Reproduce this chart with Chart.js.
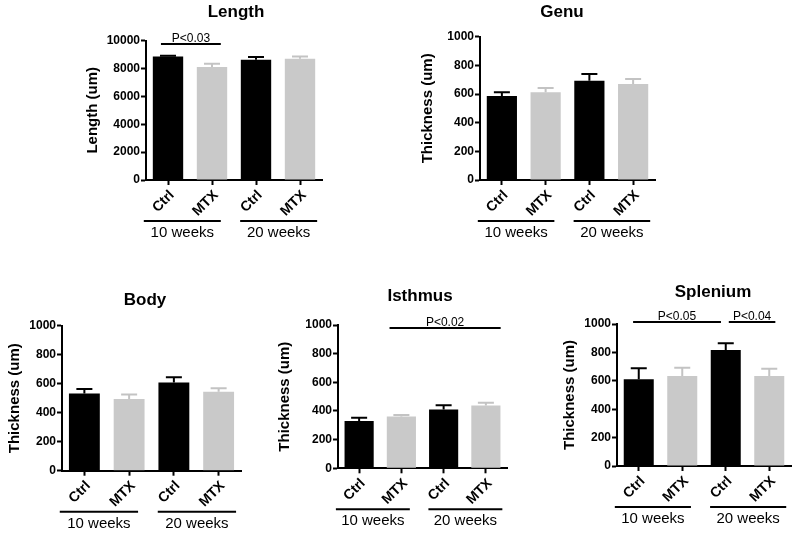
<!DOCTYPE html>
<html>
<head>
<meta charset="utf-8">
<script src="https://cdn.jsdelivr.net/npm/chart.js@4/dist/chart.umd.min.js"></script>
<style>
  html, body { margin: 0; padding: 0; background: #fff; }
  #wrap { position: relative; width: 798px; height: 533px; }
  #wrap canvas { position: absolute; left: 0; top: 0; }
</style>
</head>
<body>
<div id="wrap">
  <canvas id="c-length" width="798" height="533"></canvas>
  <canvas id="c-genu" width="798" height="533"></canvas>
  <canvas id="c-body" width="798" height="533"></canvas>
  <canvas id="c-isthmus" width="798" height="533"></canvas>
  <canvas id="c-splenium" width="798" height="533"></canvas>
</div>
<script>
// ---- data ----
const categories = ['Ctrl', 'MTX', 'Ctrl', 'MTX'];
const groups = ['10 weeks', '20 weeks'];

const lengthMeans = [8850, 8100, 8620, 8690];
const lengthErr = [50, 240, 190, 170];
const genuMeans = [586, 612, 693, 670];
const genuErr = [26, 30, 47, 35];
const bodyMeans = [533, 494, 609, 545];
const bodyErr = [30, 32, 35, 23];
const isthmusMeans = [330, 362, 410, 438];
const isthmusErr = [22, 10, 30, 20];
const spleniumMeans = [611, 634, 817, 634];
const spleniumErr = [77, 58, 47, 51];

const lengthTicks = [0, 2000, 4000, 6000, 8000, 10000];
const thicknessTicks = [0, 200, 400, 600, 800, 1000];

// significance: [fromIndex, toIndex, label]
const lengthSig = [[0, 1, 'P<0.03']];
const isthmusSig = [[1, 3, 'P<0.02']];
const spleniumSig = [[0, 2, 'P<0.05'], [2, 3, 'P<0.04']];

// ---- styling ----
const FONT = '"Liberation Sans", Arial, Helvetica, sans-serif';
const BLACK = '#000000';
const GREY = '#c9c9c9';
const GREY_ERR = '#c3c3c3';

// panel frames: axis left, top (max), right, bottom (0), y-title centre x, title pos
const panels = [
  { id: 'c-length', title: 'Length', yTitle: 'Length (um)', means: lengthMeans, err: lengthErr, ticks: lengthTicks,
    frame: { L: 146, T: 40.5, R: 322, B: 180, yt: 93 }, titlePos: [236, 17],
    sig: lengthSig, sigStyle: { dy: 3.5, off: [[-0.16, 0.2]] } },
  { id: 'c-genu', title: 'Genu', yTitle: 'Thickness (um)', means: genuMeans, err: genuErr, ticks: thicknessTicks,
    frame: { L: 480, T: 36.7, R: 655, B: 180, yt: 428 }, titlePos: [562, 17] },
  { id: 'c-body', title: 'Body', yTitle: 'Thickness (um)', means: bodyMeans, err: bodyErr, ticks: thicknessTicks,
    frame: { L: 62, T: 325.7, R: 241, B: 470.7, yt: 15 }, titlePos: [145, 305] },
  { id: 'c-isthmus', title: 'Isthmus', yTitle: 'Thickness (um)', means: isthmusMeans, err: isthmusErr, ticks: thicknessTicks,
    frame: { L: 338, T: 325, R: 507, B: 468.3, yt: 285 }, titlePos: [420, 301],
    sig: isthmusSig, sigStyle: { dy: 3, off: [[-0.28, 0.35]] } },
  { id: 'c-splenium', title: 'Splenium', yTitle: 'Thickness (um)', means: spleniumMeans, err: spleniumErr, ticks: thicknessTicks,
    frame: { L: 617, T: 324, R: 791, B: 466, yt: 570 }, titlePos: [713, 297],
    sig: spleniumSig, sigStyle: { dy: -2, off: [[-0.13, -0.11], [0.07, 0.14]] } }
];

// group underline extents, in category widths from first/last centre of each group
const groupOff = [[-0.55, 0.2], [-0.36, 0.39]];

// draws error bars, titles, group lines and p-value bars
const decorPlugin = {
  id: 'decor',
  afterDatasetsDraw(chart, args, opts) {
    const ctx = chart.ctx;
    const y = chart.scales.y;
    const meta = chart.getDatasetMeta(0);
    const errs = opts.err;
    ctx.save();
    meta.data.forEach((bar, i) => {
      const top = y.getPixelForValue(chart.data.datasets[0].data[i] + errs[i]);
      ctx.strokeStyle = i % 2 === 0 ? BLACK : GREY_ERR;
      ctx.lineWidth = 2;
      ctx.beginPath();
      ctx.moveTo(bar.x, bar.y);
      ctx.lineTo(bar.x, top);
      ctx.moveTo(bar.x - 8, top);
      ctx.lineTo(bar.x + 8, top);
      ctx.stroke();
    });
    ctx.restore();
  },
  afterDraw(chart, args, opts) {
    const ctx = chart.ctx;
    const x = chart.scales.x;
    const area = chart.chartArea;
    const cw = (area.right - area.left) / categories.length;
    ctx.save();

    // title
    ctx.fillStyle = BLACK;
    ctx.font = 'bold 17px ' + FONT;
    ctx.textAlign = 'center';
    ctx.textBaseline = 'alphabetic';
    ctx.fillText(opts.title, opts.titlePos[0], opts.titlePos[1]);

    // group underlines
    const gy = area.bottom + 41;
    ctx.strokeStyle = BLACK;
    ctx.lineWidth = 2;
    ctx.font = '15px ' + FONT;
    groups.forEach((g, k) => {
      const a = x.getPixelForValue(k * 2) + groupOff[k][0] * cw;
      const b = x.getPixelForValue(k * 2 + 1) + groupOff[k][1] * cw;
      ctx.beginPath();
      ctx.moveTo(a, gy);
      ctx.lineTo(b, gy);
      ctx.stroke();
      ctx.textBaseline = 'middle';
      ctx.fillText(g, (a + b) / 2, gy + 12);
    });

    // p-value bars
    if (opts.sig) {
      const sy = area.top + opts.sigStyle.dy;
      ctx.font = '12px ' + FONT;
      ctx.textBaseline = 'alphabetic';
      opts.sig.forEach((s, k) => {
        const a = x.getPixelForValue(s[0]) + opts.sigStyle.off[k][0] * cw;
        const b = x.getPixelForValue(s[1]) + opts.sigStyle.off[k][1] * cw;
        ctx.beginPath();
        ctx.moveTo(a, sy);
        ctx.lineTo(b, sy);
        ctx.stroke();
        ctx.fillText(s[2], (a + b) / 2, sy - 2);
      });
    }
    ctx.restore();
  }
};

function makePanel(p) {
  const f = p.frame;
  const yTitleSize = 15;
  const padLeft = f.yt - yTitleSize * 1.2 / 2;
  const yWidth = f.L - padLeft;
  const xHeight = 533 - f.B;
  const ticks = p.ticks;

  new Chart(document.getElementById(p.id), {
    type: 'bar',
    data: {
      labels: categories,
      datasets: [{
        data: p.means,
        backgroundColor: p.means.map((v, i) => i % 2 === 0 ? BLACK : GREY),
        borderWidth: 0,
        barPercentage: 0.69,
        categoryPercentage: 1
      }]
    },
    options: {
      responsive: false,
      animation: false,
      devicePixelRatio: 1,
      events: [],
      layout: { padding: { left: padLeft, top: f.T, right: 798 - f.R, bottom: 0 } },
      plugins: {
        legend: { display: false },
        tooltip: { enabled: false },
        title: { display: false },
        decor: { title: p.title, titlePos: p.titlePos, err: p.err, sig: p.sig, sigStyle: p.sigStyle }
      },
      scales: {
        x: {
          afterFit: s => { s.height = xHeight; },
          grid: { offset: false, drawOnChartArea: false, drawTicks: true, tickLength: 5, tickWidth: 2, tickColor: BLACK },
          border: { display: true, color: BLACK, width: 2 },
          ticks: {
            color: BLACK, autoSkip: false, minRotation: 45, maxRotation: 45, padding: 2, labelOffset: 4,
            font: { family: FONT, size: 14, weight: 'bold' }
          }
        },
        y: {
          min: ticks[0],
          max: ticks[ticks.length - 1],
          afterBuildTicks: s => { s.ticks = ticks.map(v => ({ value: v })); },
          afterFit: s => { s.width = yWidth; },
          grid: { drawOnChartArea: false, drawTicks: true, tickLength: 5, tickWidth: 2, tickColor: BLACK },
          border: { display: true, color: BLACK, width: 2 },
          ticks: {
            color: BLACK, padding: 1,
            font: { family: FONT, size: 12, weight: 'bold' },
            callback: v => String(v)
          },
          title: {
            display: true, text: p.yTitle, color: BLACK, padding: 0,
            font: { family: FONT, size: yTitleSize, weight: 'bold' }
          }
        }
      }
    },
    plugins: [decorPlugin]
  });
}

panels.forEach(makePanel);
</script>
</body>
</html>
